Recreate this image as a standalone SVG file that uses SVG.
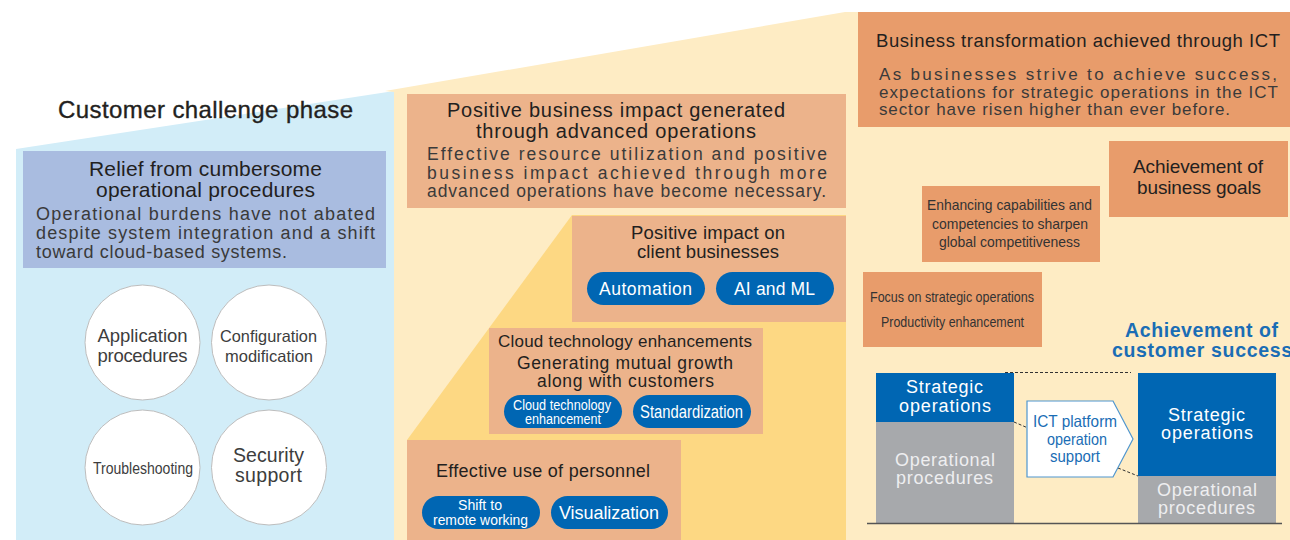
<svg xmlns="http://www.w3.org/2000/svg" width="1290" height="540" viewBox="0 0 1290 540">
  <style>
    text { font-family: "Liberation Sans", Arial, sans-serif; fill: #231f20; }
    .mid { text-anchor: middle; }
    .h1 { font-size: 24px; stroke: #231f20; stroke-width: 0.35; }
    .h2 { font-size: 20px; }
    .body { font-size: 17.5px; fill: #3a3a3a; }
    .h3 { font-size: 18px; }
    .circ { font-size: 18.5px; fill: #3d3d3d; }
    .cond { font-size: 16.5px; fill: #3d3d3d; }
    .small { font-size: 14.5px; fill: #333; }
    .pill { fill: #0066b3; }
    .pilltxt { font-size: 17.5px; fill: #ffffff; }
    .pillsm { font-size: 14px; fill: #ffffff; }
    .boxA { fill: #ecb38b; }
    .boxB { fill: #e89c6b; }
    .bar { font-size: 18px; fill: #ffffff; }
    .bargray { font-size: 18px; fill: #eeeef0; }
    .ict { font-size: 16.5px; fill: #1a6db5; }
    .dash { stroke: #333; stroke-width: 1; stroke-dasharray: 3 2; fill: none; }
  </style>

  <!-- phase backgrounds -->
  <g id="backgrounds">
    <polygon points="16,149 394,91 394,540 16,540" fill="#d2edf8"/>
    <polygon points="385,91 845,12 1290,12 1290,540 394,540 394,92" fill="#feecc4"/>
    <polygon points="407,440 572,215 846,215 846,540 407,540" fill="#fdd883"/>
  </g>

  <!-- customer challenge phase -->
  <g id="phase-title">
    <text class="h1 mid" x="205.5" y="118" textLength="295">Customer challenge phase</text>
  </g>

  <g id="relief-box">
    <rect x="23" y="151" width="363" height="117" fill="#a9bce0"/>
    <text class="h2 mid" x="205.5" y="176" textLength="233" style="font-size:21px">Relief from cumbersome</text>
    <text class="h2 mid" x="205.5" y="197" textLength="219" style="font-size:21px">operational procedures</text>
    <text class="body" x="36" y="220" textLength="339" style="font-size:18px">Operational burdens have not abated</text>
    <text class="body" x="36" y="238.5" textLength="339" style="font-size:18px">despite system integration and a shift</text>
    <text class="body" x="36" y="258" textLength="251" style="font-size:18px">toward cloud-based systems.</text>
  </g>

  <g id="task-application">
    <circle cx="142.5" cy="342.5" r="57.5" fill="#fff" stroke="#bdbdbd" stroke-width="1"/>
    <text class="circ mid" x="142.5" y="342" textLength="90">Application</text>
    <text class="circ mid" x="142.5" y="362" textLength="90">procedures</text>
  </g>
  <g id="task-configuration">
    <circle cx="269" cy="342.5" r="57.5" fill="#fff" stroke="#bdbdbd" stroke-width="1"/>
    <text class="cond mid" x="268.5" y="342" textLength="97" lengthAdjust="spacingAndGlyphs">Configuration</text>
    <text class="cond mid" x="269" y="362" textLength="88" lengthAdjust="spacingAndGlyphs">modification</text>
  </g>
  <g id="task-troubleshooting">
    <circle cx="142.5" cy="467.5" r="57.5" fill="#fff" stroke="#bdbdbd" stroke-width="1"/>
    <text class="cond mid" x="143" y="474" textLength="100" lengthAdjust="spacingAndGlyphs">Troubleshooting</text>
  </g>
  <g id="task-security">
    <circle cx="269" cy="467.5" r="57.5" fill="#fff" stroke="#bdbdbd" stroke-width="1"/>
    <text class="circ mid" x="268.5" y="462" textLength="71" style="font-size:19.5px">Security</text>
    <text class="circ mid" x="268.5" y="482" textLength="67" style="font-size:19.5px">support</text>
  </g>

  <!-- advanced operations phase -->
  <g id="advanced-box">
    <rect x="407" y="94" width="439" height="114" class="boxA"/>
    <text class="h2 mid" x="616" y="117" textLength="338">Positive business impact generated</text>
    <text class="h2 mid" x="616" y="138" textLength="280">through advanced operations</text>
    <text class="body" x="427" y="160" textLength="400">Effective resource utilization and positive</text>
    <text class="body" x="427" y="179" textLength="400">business impact achieved through more</text>
    <text class="body" x="427" y="197" textLength="399">advanced operations have become necessary.</text>
  </g>

  <g id="client-impact-box">
    <rect x="572" y="216" width="274" height="106" class="boxA"/>
    <text class="h3 mid" x="708" y="239" textLength="154" style="font-size:18.5px">Positive impact on</text>
    <text class="h3 mid" x="708" y="258" textLength="142" style="font-size:18.5px">client businesses</text>
    <rect x="587" y="272" width="118" height="33" rx="16.5" class="pill"/>
    <text class="pilltxt mid" x="645.5" y="295" textLength="93">Automation</text>
    <rect x="716" y="272" width="118" height="33" rx="16.5" class="pill"/>
    <text class="pilltxt mid" x="774.5" y="295" textLength="81">AI and ML</text>
  </g>

  <g id="cloud-box">
    <rect x="489" y="328" width="274" height="106" class="boxA"/>
    <text class="h3 mid" x="625" y="347" textLength="254" style="font-size:17px">Cloud technology enhancements</text>
    <text class="h3 mid" x="625" y="369" textLength="216" style="font-size:17.5px">Generating mutual growth</text>
    <text class="h3 mid" x="625.5" y="387" textLength="177" style="font-size:17.5px">along with customers</text>
    <rect x="504" y="395" width="118" height="33" rx="16.5" class="pill"/>
    <text class="pillsm mid" x="562" y="410" textLength="98" lengthAdjust="spacingAndGlyphs">Cloud technology</text>
    <text class="pillsm mid" x="563" y="424" textLength="76" lengthAdjust="spacingAndGlyphs">enhancement</text>
    <rect x="633" y="395" width="118" height="33" rx="16.5" class="pill"/>
    <text class="pilltxt mid" x="691.5" y="418" textLength="103" lengthAdjust="spacingAndGlyphs">Standardization</text>
  </g>

  <g id="personnel-box">
    <rect x="407" y="440" width="274" height="100" class="boxA"/>
    <text class="h3 mid" x="543" y="477" textLength="214">Effective use of personnel</text>
    <rect x="422" y="496" width="118" height="33" rx="16.5" class="pill"/>
    <text class="pillsm mid" x="480" y="510" textLength="44" lengthAdjust="spacingAndGlyphs">Shift to</text>
    <text class="pillsm mid" x="480.5" y="525" textLength="95" lengthAdjust="spacingAndGlyphs">remote working</text>
    <rect x="551" y="496" width="117" height="33" rx="16.5" class="pill"/>
    <text class="pilltxt mid" x="609" y="519" textLength="100" style="font-size:18px">Visualization</text>
  </g>

  <!-- business transformation phase -->
  <g id="transformation-box">
    <rect x="858" y="12" width="432" height="115" class="boxB"/>
    <text class="h2 mid" x="1078" y="47" textLength="404" style="font-size:18.5px">Business transformation achieved through ICT</text>
    <text class="body" x="879" y="80" textLength="398" style="font-size:17px">As businesses strive to achieve success,</text>
    <text class="body" x="879" y="97.5" textLength="399" style="font-size:17px">expectations for strategic operations in the ICT</text>
    <text class="body" x="879" y="115" textLength="351" style="font-size:17px">sector have risen higher than ever before.</text>
  </g>

  <g id="goals-box">
    <rect x="1109" y="141" width="179" height="76" class="boxB"/>
    <text class="h2 mid" x="1198" y="173" textLength="130" style="font-size:19px">Achievement of</text>
    <text class="h2 mid" x="1199" y="194" textLength="124" style="font-size:19px">business goals</text>
  </g>

  <g id="competitiveness-box">
    <rect x="922" y="186" width="178" height="76" class="boxB"/>
    <text class="small mid" x="1009.5" y="210" textLength="165" lengthAdjust="spacingAndGlyphs">Enhancing capabilities and</text>
    <text class="small mid" x="1010" y="229" textLength="156" lengthAdjust="spacingAndGlyphs">competencies to sharpen</text>
    <text class="small mid" x="1009.5" y="247" textLength="141" lengthAdjust="spacingAndGlyphs">global competitiveness</text>
  </g>

  <g id="focus-box">
    <rect x="863" y="272" width="179" height="75" class="boxB"/>
    <text class="small mid" x="952" y="302" textLength="164" lengthAdjust="spacingAndGlyphs">Focus on strategic operations</text>
    <text class="small mid" x="952.5" y="327" textLength="143" lengthAdjust="spacingAndGlyphs">Productivity enhancement</text>
  </g>

  <g id="success-label">
    <text class="mid" x="1201.5" y="337" textLength="153" style="font-size:19.5px;font-weight:bold;fill:#1a6db5">Achievement of</text>
    <text x="1112" y="357" textLength="180" style="font-size:19.5px;font-weight:bold;fill:#1a6db5">customer success</text>
  </g>

  <!-- before / after comparison -->
  <g id="bar-before">
    <rect x="876" y="373" width="138" height="49" fill="#0066b3"/>
    <rect x="876" y="422" width="138" height="101" fill="#a7a9ac"/>
    <text class="bar mid" x="944.5" y="393" textLength="77">Strategic</text>
    <text class="bar mid" x="945" y="412" textLength="92">operations</text>
    <text class="bargray mid" x="945" y="466" textLength="100">Operational</text>
    <text class="bargray mid" x="944.5" y="484" textLength="97">procedures</text>
  </g>

  <g id="bar-after">
    <rect x="1138" y="373" width="138" height="103" fill="#0066b3"/>
    <rect x="1138" y="476" width="138" height="47" fill="#a7a9ac"/>
    <text class="bar mid" x="1206.5" y="421" textLength="77">Strategic</text>
    <text class="bar mid" x="1207" y="439" textLength="92">operations</text>
    <text class="bargray mid" x="1207" y="496" textLength="100">Operational</text>
    <text class="bargray mid" x="1206.5" y="514" textLength="97">procedures</text>
  </g>

  <g id="connectors">
    <line x1="867" y1="523.5" x2="1282" y2="523.5" stroke="#555" stroke-width="1.3"/>
    <line class="dash" x1="1005" y1="372.5" x2="1131" y2="372.5"/>
    <line class="dash" x1="1014" y1="422" x2="1028" y2="428"/>
    <line class="dash" x1="1118" y1="468" x2="1138" y2="476"/>
  </g>

  <g id="platform-support">
    <polygon points="1027,401 1113,401 1133,439 1113,477 1027,477" fill="#ffffff" stroke="#4f96cf" stroke-width="1.2"/>
    <text class="ict mid" x="1075" y="427" textLength="84" lengthAdjust="spacingAndGlyphs">ICT platform</text>
    <text class="ict mid" x="1077" y="445" textLength="60" lengthAdjust="spacingAndGlyphs">operation</text>
    <text class="ict mid" x="1075" y="462" textLength="50" lengthAdjust="spacingAndGlyphs">support</text>
  </g>
</svg>
